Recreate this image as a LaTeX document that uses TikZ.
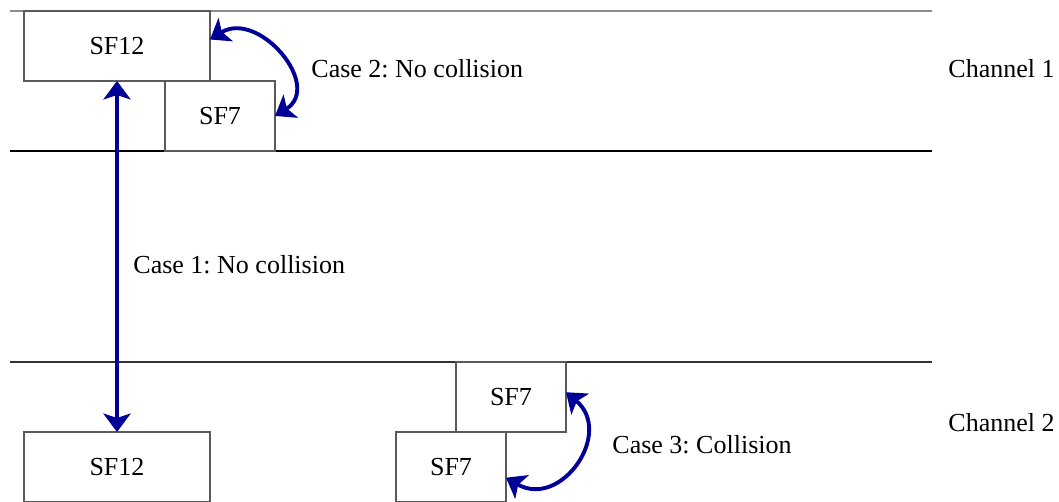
\documentclass[tikz,border=0pt]{standalone}
\usepackage{fontspec}
\setmainfont{Liberation Serif}
\usetikzlibrary{arrows.meta, positioning}
\definecolor{arrowblue}{RGB}{0,0,150}
\definecolor{boxline}{RGB}{90,90,90}
\definecolor{lightline}{RGB}{140,140,140}
\frenchspacing

\begin{document}
\begin{tikzpicture}[
  x=0.01622cm, y=-0.01622cm,
  sfbox/.style={rectangle, draw=boxline, line width=0.6pt, minimum width=3.017cm, minimum height=1.135cm, inner sep=0pt, outer sep=0pt, font=\fontsize{12}{14}\selectfont, align=center},
  smallsf/.style={sfbox, minimum width=1.784cm},
  caselabel/.style={anchor=west, inner sep=0pt, font=\fontsize{12}{14}\selectfont},
  casearrow/.style={draw=arrowblue, line width=1.8pt, {Stealth[length=8.5pt,width=12.5pt,inset=2pt]}-{Stealth[length=8.5pt,width=12.5pt,inset=2pt]}}
]
  \useasboundingbox (0,0) rectangle (1059,501);

  % Channel borders
  \draw[lightline, line width=0.6pt] (10,11) -- (932,11);
  \draw[line width=0.6pt] (10,151) -- (932,151);
  \draw[black!80, line width=0.6pt] (10,362) -- (932,362);

  % Channel 1
  \node[sfbox] (sf12a) at (117,46) {SF12};
  \node[smallsf, below=0cm of sf12a, xshift=1.671cm] (sf7a) {SF7};

  % Channel 2
  \node[sfbox] (sf12b) at (117,467) {SF12};
  \node[smallsf] (sf7c) at (451,467) {SF7};
  \node[smallsf, above=0cm of sf7c, xshift=0.973cm] (sf7b) {SF7};

  % Cases
  \draw[casearrow] (sf12a.south) -- (sf12b.north);
  \draw[casearrow] (sf12a.4) to[out=32, in=32, looseness=1.45] (sf7a.east);
  \draw[casearrow] (sf7b.5) to[out=-40, in=-30, looseness=1.55] (sf7c.-11);

  \node[caselabel] (case1) at (133,265) {Case 1: No collision};
  \node[caselabel] (case2) at (311,69) {Case 2: No collision};
  \node[caselabel] (case3) at (612,445) {Case 3: Collision};

  % Channel names
  \node[caselabel] (ch1) at (948,69) {Channel 1};
  \node[caselabel] (ch2) at (948,423) {Channel 2};
\end{tikzpicture}
\end{document}
